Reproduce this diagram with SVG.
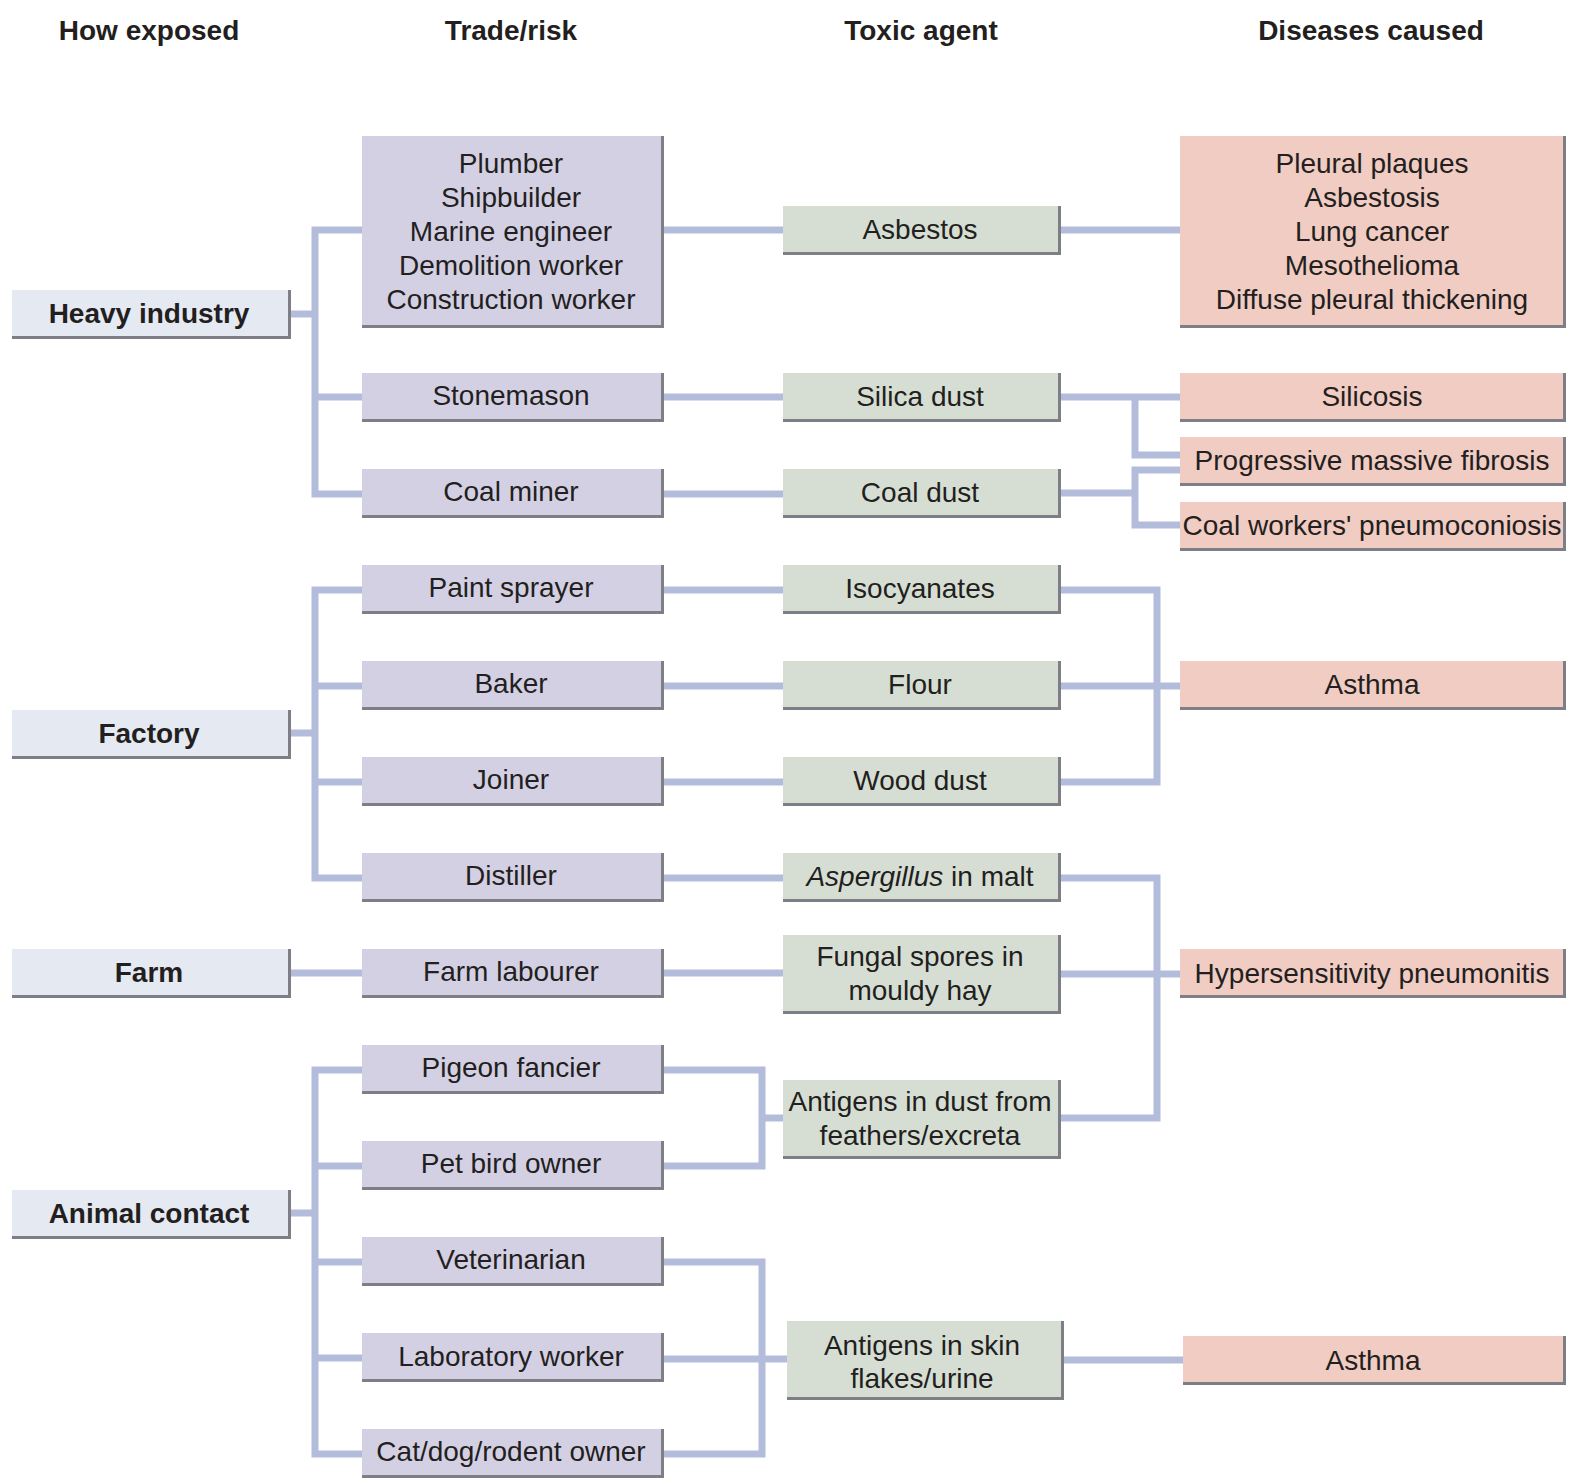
<svg xmlns="http://www.w3.org/2000/svg" width="1570" height="1483" viewBox="0 0 1570 1483">
<style>
.hdr{font-family:"Liberation Sans",Arial,sans-serif;font-weight:bold;font-size:28px;fill:#231f20;text-anchor:middle}
.t{font-family:"Liberation Sans",Arial,sans-serif;font-size:28px;fill:#231f20;text-anchor:middle}
.b{font-weight:bold}
.sh{fill:#7e7e87}
.c1{fill:#e5e9f2}
.c2{fill:#d4d0e4}
.c3{fill:#d6ded4}
.c4{fill:#f1ccc3}
.con{stroke:#b3bddb;stroke-width:7;fill:none}
</style>
<rect width="1570" height="1483" fill="#ffffff"/>
<g id="headers">
<text class="hdr" x="149" y="40">How exposed</text>
<text class="hdr" x="511" y="40">Trade/risk</text>
<text class="hdr" x="921" y="40">Toxic agent</text>
<text class="hdr" x="1371" y="40">Diseases caused</text>
</g>
<g id="connectors">
<path class="con" d="M291,314 H315 M362,230 H315 V494 H362 M315,397 H362"/>
<path class="con" d="M664,230 H783 M1061,230 H1180"/>
<path class="con" d="M664,397 H783 M664,494 H783"/>
<path class="con" d="M1061,397 H1180 M1135,397 V455 H1180"/>
<path class="con" d="M1061,493 H1135 M1180,470 H1135 V525 H1180"/>
<path class="con" d="M291,733 H315 M362,590 H315 V878 H362 M315,686 H362 M315,782 H362"/>
<path class="con" d="M664,590 H783 M664,686 H783 M664,782 H783 M664,878 H783"/>
<path class="con" d="M1061,590 H1157 V782 H1061 M1061,686 H1180"/>
<path class="con" d="M1061,878 H1157 V1118 H1061 M1061,974 H1180"/>
<path class="con" d="M291,973 H362 M664,973 H783"/>
<path class="con" d="M291,1213 H315 M362,1070 H315 V1454 H362 M315,1166 H362 M315,1262 H362 M315,1358 H362"/>
<path class="con" d="M664,1070 H762 V1166 H664 M762,1118 H783"/>
<path class="con" d="M664,1262 H762 V1454 H664 M664,1359 H787"/>
<path class="con" d="M1064,1360 H1183"/>
</g>
<g id="n-heavy"><rect class="sh" x="12" y="290" width="279" height="49"/><rect class="c1" x="12" y="290" width="276" height="46"/><text class="t b" x="149" y="323">Heavy industry</text></g>
<g id="n-factory"><rect class="sh" x="12" y="710" width="279" height="49"/><rect class="c1" x="12" y="710" width="276" height="46"/><text class="t b" x="149" y="743">Factory</text></g>
<g id="n-farm"><rect class="sh" x="12" y="949" width="279" height="49"/><rect class="c1" x="12" y="949" width="276" height="46"/><text class="t b" x="149" y="982">Farm</text></g>
<g id="n-animal"><rect class="sh" x="12" y="1190" width="279" height="49"/><rect class="c1" x="12" y="1190" width="276" height="46"/><text class="t b" x="149" y="1223">Animal contact</text></g>

<g id="n-plumber"><rect class="sh" x="362" y="136" width="302" height="192"/><rect class="c2" x="362" y="136" width="299" height="189"/>
<text class="t" x="511"><tspan x="511" y="173">Plumber</tspan><tspan x="511" y="207">Shipbuilder</tspan><tspan x="511" y="241">Marine engineer</tspan><tspan x="511" y="275">Demolition worker</tspan><tspan x="511" y="309">Construction worker</tspan></text></g>
<g id="n-stonemason"><rect class="sh" x="362" y="373" width="302" height="49"/><rect class="c2" x="362" y="373" width="299" height="46"/><text class="t" x="511" y="405">Stonemason</text></g>
<g id="n-coalminer"><rect class="sh" x="362" y="469" width="302" height="49"/><rect class="c2" x="362" y="469" width="299" height="46"/><text class="t" x="511" y="501">Coal miner</text></g>
<g id="n-paint"><rect class="sh" x="362" y="565" width="302" height="49"/><rect class="c2" x="362" y="565" width="299" height="46"/><text class="t" x="511" y="597">Paint sprayer</text></g>
<g id="n-baker"><rect class="sh" x="362" y="661" width="302" height="49"/><rect class="c2" x="362" y="661" width="299" height="46"/><text class="t" x="511" y="693">Baker</text></g>
<g id="n-joiner"><rect class="sh" x="362" y="757" width="302" height="49"/><rect class="c2" x="362" y="757" width="299" height="46"/><text class="t" x="511" y="789">Joiner</text></g>
<g id="n-distiller"><rect class="sh" x="362" y="853" width="302" height="49"/><rect class="c2" x="362" y="853" width="299" height="46"/><text class="t" x="511" y="885">Distiller</text></g>
<g id="n-farmlab"><rect class="sh" x="362" y="949" width="302" height="49"/><rect class="c2" x="362" y="949" width="299" height="46"/><text class="t" x="511" y="981">Farm labourer</text></g>
<g id="n-pigeon"><rect class="sh" x="362" y="1045" width="302" height="49"/><rect class="c2" x="362" y="1045" width="299" height="46"/><text class="t" x="511" y="1077">Pigeon fancier</text></g>
<g id="n-petbird"><rect class="sh" x="362" y="1141" width="302" height="49"/><rect class="c2" x="362" y="1141" width="299" height="46"/><text class="t" x="511" y="1173">Pet bird owner</text></g>
<g id="n-vet"><rect class="sh" x="362" y="1237" width="302" height="49"/><rect class="c2" x="362" y="1237" width="299" height="46"/><text class="t" x="511" y="1269">Veterinarian</text></g>
<g id="n-lab"><rect class="sh" x="362" y="1333" width="302" height="49"/><rect class="c2" x="362" y="1333" width="299" height="46"/><text class="t" x="511" y="1366">Laboratory worker</text></g>
<g id="n-cat"><rect class="sh" x="362" y="1429" width="302" height="49"/><rect class="c2" x="362" y="1429" width="299" height="46"/><text class="t" x="511" y="1461">Cat/dog/rodent owner</text></g>

<g id="n-asbestos"><rect class="sh" x="783" y="206" width="278" height="49"/><rect class="c3" x="783" y="206" width="275" height="46"/><text class="t" x="920" y="239">Asbestos</text></g>
<g id="n-silica"><rect class="sh" x="783" y="373" width="278" height="49"/><rect class="c3" x="783" y="373" width="275" height="46"/><text class="t" x="920" y="406">Silica dust</text></g>
<g id="n-coaldust"><rect class="sh" x="783" y="469" width="278" height="49"/><rect class="c3" x="783" y="469" width="275" height="46"/><text class="t" x="920" y="502">Coal dust</text></g>
<g id="n-iso"><rect class="sh" x="783" y="565" width="278" height="49"/><rect class="c3" x="783" y="565" width="275" height="46"/><text class="t" x="920" y="598">Isocyanates</text></g>
<g id="n-flour"><rect class="sh" x="783" y="661" width="278" height="49"/><rect class="c3" x="783" y="661" width="275" height="46"/><text class="t" x="920" y="694">Flour</text></g>
<g id="n-wood"><rect class="sh" x="783" y="757" width="278" height="49"/><rect class="c3" x="783" y="757" width="275" height="46"/><text class="t" x="920" y="790">Wood dust</text></g>
<g id="n-asperg"><rect class="sh" x="783" y="853" width="278" height="49"/><rect class="c3" x="783" y="853" width="275" height="46"/><text class="t" x="920" y="886"><tspan font-style="italic">Aspergillus</tspan> in malt</text></g>
<g id="n-fungal"><rect class="sh" x="783" y="935" width="278" height="79"/><rect class="c3" x="783" y="935" width="275" height="76"/><text class="t" x="920"><tspan x="920" y="966">Fungal spores in</tspan><tspan x="920" y="1000">mouldy hay</tspan></text></g>
<g id="n-antdust"><rect class="sh" x="783" y="1080" width="278" height="79"/><rect class="c3" x="783" y="1080" width="275" height="76"/><text class="t" x="920"><tspan x="920" y="1111">Antigens in dust from</tspan><tspan x="920" y="1145">feathers/excreta</tspan></text></g>
<g id="n-antskin"><rect class="sh" x="787" y="1321" width="277" height="79"/><rect class="c3" x="787" y="1321" width="274" height="76"/><text class="t" x="922"><tspan x="922" y="1355">Antigens in skin</tspan><tspan x="922" y="1388">flakes/urine</tspan></text></g>

<g id="n-pleural"><rect class="sh" x="1180" y="136" width="386" height="192"/><rect class="c4" x="1180" y="136" width="383" height="189"/>
<text class="t" x="1372"><tspan x="1372" y="173">Pleural plaques</tspan><tspan x="1372" y="207">Asbestosis</tspan><tspan x="1372" y="241">Lung cancer</tspan><tspan x="1372" y="275">Mesothelioma</tspan><tspan x="1372" y="309">Diffuse pleural thickening</tspan></text></g>
<g id="n-silicosis"><rect class="sh" x="1180" y="373" width="386" height="49"/><rect class="c4" x="1180" y="373" width="383" height="46"/><text class="t" x="1372" y="406">Silicosis</text></g>
<g id="n-pmf"><rect class="sh" x="1180" y="437" width="386" height="49"/><rect class="c4" x="1180" y="437" width="383" height="46"/><text class="t" x="1372" y="470">Progressive massive fibrosis</text></g>
<g id="n-cwp"><rect class="sh" x="1180" y="502" width="386" height="49"/><rect class="c4" x="1180" y="502" width="383" height="46"/><text class="t" x="1372" y="535">Coal workers' pneumoconiosis</text></g>
<g id="n-asthma1"><rect class="sh" x="1180" y="661" width="386" height="49"/><rect class="c4" x="1180" y="661" width="383" height="46"/><text class="t" x="1372" y="694">Asthma</text></g>
<g id="n-hyper"><rect class="sh" x="1180" y="949" width="386" height="49"/><rect class="c4" x="1180" y="949" width="383" height="46"/><text class="t" x="1372" y="983">Hypersensitivity pneumonitis</text></g>
<g id="n-asthma2"><rect class="sh" x="1183" y="1336" width="383" height="49"/><rect class="c4" x="1183" y="1336" width="380" height="46"/><text class="t" x="1373" y="1370">Asthma</text></g>
</svg>
